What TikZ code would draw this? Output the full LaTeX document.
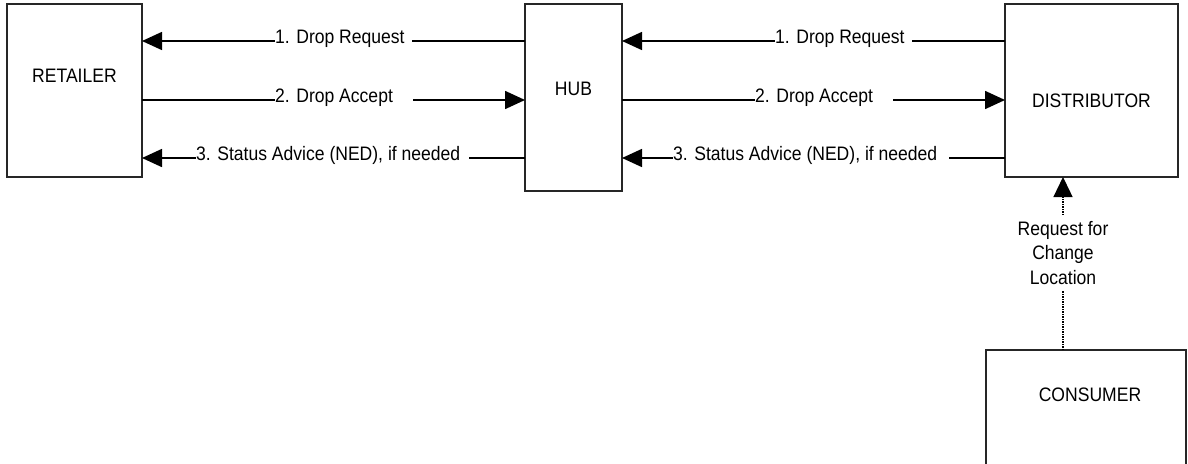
\documentclass[tikz,border=0pt]{standalone}
\usepackage{fontspec}
\setmainfont{Liberation Sans}[FakeStretch=0.9]
\usetikzlibrary{arrows.meta}
\begin{document}
\begin{tikzpicture}[x=1pt,y=-1pt,
  box/.style={draw=black!85, line width=1.5pt, inner sep=0pt, outer sep=0pt, anchor=north west},
  txt/.style={font=\fontsize{19.5}{24.5}\selectfont, inner sep=0pt},
  conn/.style={line width=1.6pt, -{Triangle[length=20pt,width=18pt]}},
  dotconn/.style={line width=1.3pt, dash pattern=on 1.2pt off 1.3pt, -{Triangle[length=20pt,width=19pt]}},
  lbl/.style={font=\fontsize{19.5}{24.5}\selectfont, fill=white, inner xsep=0pt, inner ysep=2pt, anchor=base west},
  vlbl/.style={font=\fontsize{19.5}{24.5}\selectfont, fill=white, align=center, inner xsep=2pt, inner ysep=6pt},
]
\useasboundingbox (0,0) rectangle (1188,463);
% boxes
\node[box, minimum width=135pt, minimum height=173pt] (ret) at (7,4) {};
\node[box, minimum width=97pt, minimum height=187pt] (hub) at (525,4) {};
\node[box, minimum width=173pt, minimum height=173pt] (dist) at (1005,4) {};
\node[box, minimum width=200pt, minimum height=150pt] (cons) at (986,350) {};
% box texts
\node[txt] (rett) at (74.5,76) {RETAILER};
\node[txt] (hubt) at (573.5,89) {HUB};
\node[txt] (distt) at (1091.5,101) {DISTRIBUTOR};
\node[txt] (const) at (1090,395) {CONSUMER};
% retailer <-> hub
\draw[conn] (hub.west |- 0,41) -- (ret.east |- 0,41);
\draw[conn] (ret.east |- 0,100) -- (hub.west |- 0,100);
\draw[conn] (hub.west |- 0,158) -- (ret.east |- 0,158);
\node[lbl] (l1) at (275,43.5) {1. Drop Request\hspace*{7.2pt}};
\node[lbl] (l2) at (275,102.5) {2. Drop Accept\hspace*{20pt}};
\node[lbl] (l3) at (196,160.5) {3. Status Advice (NED), if needed\hspace*{8.6pt}};
% hub <-> distributor
\draw[conn] (dist.west |- 0,41) -- (hub.east |- 0,41);
\draw[conn] (hub.east |- 0,100) -- (dist.west |- 0,100);
\draw[conn] (dist.west |- 0,158) -- (hub.east |- 0,158);
\node[lbl] (r1) at (775,43.5) {1. Drop Request\hspace*{7.2pt}};
\node[lbl] (r2) at (755,102.5) {2. Drop Accept\hspace*{20pt}};
\node[lbl] (r3) at (673,160.5) {3. Status Advice (NED), if needed\hspace*{11.6pt}};
% consumer -> distributor
\draw[dotconn] (cons.north -| 1063,0) -- (dist.south -| 1063,0);
\node[vlbl] (rq) at (1063,253) {Request for\\Change\\Location};
\end{tikzpicture}
\end{document}
